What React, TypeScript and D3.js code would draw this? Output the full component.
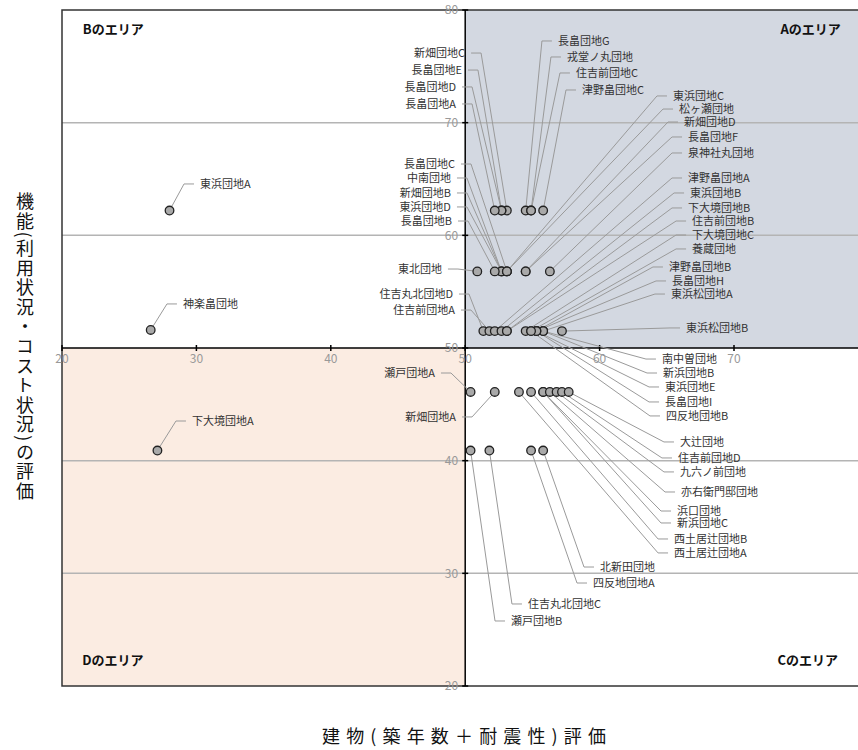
import React from "react";
import * as d3 from "d3";

const xTicks = [20, 30, 40, 50, 60, 70];
const yTicks = [20, 30, 40, 50, 60, 70, 80];

const estateNames = [
  "東浜団地A", "神楽畠団地", "下大境団地A",
  "新畑団地C", "長畠団地E", "長畠団地D", "長畠団地A", "長畠団地G", "戎堂ノ丸団地", "住吉前団地C", "津野畠団地C",
  "東北団地", "長畠団地C", "中南団地", "新畑団地B", "東浜団地D", "長畠団地B", "東浜団地C", "松ヶ瀬団地", "新畑団地D", "長畠団地F", "泉神社丸団地",
  "住吉丸北団地D", "住吉前団地A", "津野畠団地A", "東浜団地B", "下大境団地B", "住吉前団地B", "下大境団地C", "養蔵団地", "津野畠団地B", "長畠団地H", "東浜松団地A", "東浜松団地B",
  "南中曽団地", "新浜団地B", "東浜団地E", "長畠団地I", "四反地団地B",
  "瀬戸団地A", "新畑団地A", "西土居辻団地A", "西土居辻団地B", "新浜団地C", "浜口団地", "亦右衛門邸団地", "九六ノ前団地", "住吉前団地D", "大辻団地",
  "瀬戸団地B", "住吉丸北団地C", "四反地団地A", "北新田団地",
];

// 建物(築年数＋耐震性)評価
const buildingScores = [
  28.0, 26.6, 27.1,
  53.1, 52.7, 52.7, 52.2, 54.5, 54.9, 54.9, 55.8,
  50.9, 53.1, 52.7, 52.7, 52.7, 52.2, 53.1, 53.1, 54.5, 54.5, 56.3,
  51.35, 51.8, 52.2, 52.7, 53.1, 53.1, 54.5, 54.9, 55.3, 55.3, 55.8, 57.2,
  55.8, 55.8, 55.3, 55.3, 54.9,
  50.4, 52.2, 54.0, 54.9, 55.8, 55.8, 56.3, 56.8, 57.2, 57.7,
  50.4, 51.8, 54.9, 55.8,
];

// 機能(利用状況・コスト状況)の評価
const functionScores = [
  62.2, 51.6, 40.9,
  62.2, 62.2, 62.2, 62.2, 62.2, 62.2, 62.2, 62.2,
  56.8, 56.8, 56.8, 56.8, 56.8, 56.8, 56.8, 56.8, 56.8, 56.8, 56.8,
  51.5, 51.5, 51.5, 51.5, 51.5, 51.5, 51.5, 51.5, 51.5, 51.5, 51.5, 51.5,
  51.5, 51.5, 51.5, 51.5, 51.5,
  46.1, 46.1, 46.1, 46.1, 46.1, 46.1, 46.1, 46.1, 46.1, 46.1,
  40.9, 40.9, 40.9, 40.9,
];

// label placement (in chart units) and side of the leader line
const labelXs = [
  30.27, 29.0, 29.67,
  49.99, 49.76, 49.32, 49.32, 56.9, 57.57, 58.24, 58.69,
  48.27, 49.24, 48.94, 48.94, 48.94, 49.02, 65.46, 65.91, 66.28, 66.58, 66.58,
  49.09, 49.24, 66.58, 66.73, 66.58, 66.88, 66.88, 66.88, 65.16, 65.39, 65.31, 66.43,
  64.64, 64.72, 64.87, 64.87, 64.94,
  47.75, 49.32, 65.54, 65.54, 65.76, 65.76, 66.06, 65.98, 65.83, 65.98,
  53.41, 54.67, 59.51, 60.03,
];
const labelYs = [
  64.56, 53.91, 43.52,
  76.18, 74.67, 73.17, 71.66, 77.25, 75.83, 74.41, 72.9,
  57.01, 66.33, 65.09, 63.76, 62.52, 61.27, 72.37, 71.21, 70.06, 68.73, 67.31,
  54.79, 53.37, 65.09, 63.76, 62.43, 61.27, 60.03, 58.79, 57.19, 55.95, 54.79, 51.78,
  49.02, 47.78, 46.54, 45.21, 43.97,
  47.78, 43.88, 31.81, 33.05, 34.47, 35.53, 37.22, 39.0, 40.24, 41.66,
  25.77, 27.28, 29.14, 30.56,
];
const labelSides = [
  "R", "R", "R",
  "L", "L", "L", "L", "R", "R", "R", "R",
  "L", "L", "L", "L", "L", "L", "R", "R", "R", "R", "R",
  "L", "L", "R", "R", "R", "R", "R", "R", "R", "R", "R", "R",
  "R", "R", "R", "R", "R",
  "L", "L", "R", "R", "R", "R", "R", "R", "R", "R",
  "R", "R", "R", "R",
];

const areaNames = ["Aのエリア", "Bのエリア", "Cのエリア", "Dのエリア"];

const W = 858;
const H = 750;
const FONT = "'Noto Sans CJK JP', 'Noto Sans', sans-serif";

export default function App() {
  const x = d3.scaleLinear().domain([20, 80]).range([62, 868.4]);
  const y = d3.scaleLinear().domain([20, 80]).range([686, 10]);
  const cx = 50;
  const cy = 50;
  const x0 = x(20), x1 = x(80), y0 = y(20), y1 = y(80);

  const leaders = estateNames.map((n, i) => {
    const px = x(buildingScores[i]);
    const py = y(functionScores[i]);
    const lx = x(labelXs[i]);
    const ly = y(labelYs[i]);
    const side = labelSides[i];
    const e1 = side === "R" ? lx - 16 : lx + 16;
    const e2 = side === "R" ? lx - 6 : lx + 6;
    const path = d3.path();
    path.moveTo(px, py);
    path.lineTo(e1, ly);
    path.lineTo(e2, ly);
    return { n, px, py, lx, ly, side, d: path.toString() };
  });

  return (
    <svg width={W} height={H} style={{ position: "absolute", left: 0, top: 0, background: "#fff" }} fontFamily={FONT}>
      {/* quadrant fills */}
      <rect x={x(cx)} y={y1} width={x1 - x(cx)} height={y(cy) - y1} fill="#d3d8e1" />
      <rect x={x0} y={y(cy)} width={x(cx) - x0} height={y0 - y(cy)} fill="#fbece2" />

      {/* horizontal grid */}
      {yTicks.filter((t) => t !== 20 && t !== 80 && t !== 50).map((t) => (
        <line key={"g" + t} x1={x0} x2={x1} y1={y(t)} y2={y(t)} stroke="#b4b4b4" strokeWidth={1.5} />
      ))}

      {/* frame */}
      <rect x={x0} y={y1} width={x1 - x0} height={y0 - y1} fill="none" stroke="#333" strokeWidth={1.5} />

      {/* axes crossing at (50,50) */}
      <line x1={x(cx)} x2={x(cx)} y1={y1} y2={y0} stroke="#000" strokeWidth={1.5} />
      <line x1={x0} x2={x1} y1={y(cy)} y2={y(cy)} stroke="#000" strokeWidth={1.5} />
      {yTicks.map((t) => (
        <g key={"yt" + t}>
          <line x1={x(cx) - 3} x2={x(cx) + 3} y1={y(t)} y2={y(t)} stroke="#000" strokeWidth={1.5} />
          <text x={x(cx) - 7} y={y(t)} dy="0.35em" textAnchor="end" fontSize={12} fill="#999">{t}</text>
        </g>
      ))}
      {xTicks.map((t) => (
        <g key={"xt" + t}>
          <line x1={x(t)} x2={x(t)} y1={y(cy) - 3} y2={y(cy) + 3} stroke="#000" strokeWidth={1.5} />
          <text x={x(t)} y={y(cy) + 11} dy="0.35em" textAnchor="middle" fontSize={12} fill="#999">{t}</text>
        </g>
      ))}

      {/* area labels */}
      <text x={x(80) - 88} y={y(77.9)} fontSize={13} fontWeight="bold" fill="#111">{areaNames[0]}</text>
      <text x={x(21.55)} y={y(77.9)} fontSize={13} fontWeight="bold" fill="#111">{areaNames[1]}</text>
      <text x={x(80) - 91} y={y(21.9)} fontSize={13} fontWeight="bold" fill="#111">{areaNames[2]}</text>
      <text x={x(21.5)} y={y(21.9)} fontSize={13} fontWeight="bold" fill="#111">{areaNames[3]}</text>

      {/* leader lines */}
      {leaders.map((l, i) => (
        <path key={"l" + i} d={l.d} fill="none" stroke="#9a9a9a" strokeWidth={1} />
      ))}

      {/* points */}
      {leaders.map((l, i) => (
        <circle key={"c" + i} cx={l.px} cy={l.py} r={4.3} fill="#a9a9a9" stroke="#222" strokeWidth={1.3} />
      ))}

      {/* labels */}
      {leaders.map((l, i) => (
        <text key={"t" + i} x={l.lx} y={l.ly} dy="0.35em" textAnchor={l.side === "R" ? "start" : "end"} fontSize={11} fill="#333">{l.n}</text>
      ))}

      {/* axis titles */}
      <text x={322} y={743} fontSize={18} fill="#111" textLength={284} lengthAdjust="spacing">建物(築年数＋耐震性)評価</text>
      <text x={25} y={347} textAnchor="middle" fontSize={18} fill="#111" style={{ writingMode: "vertical-rl" }} letterSpacing={1.6}>機能(利用状況・コスト状況)の評価</text>
    </svg>
  );
}
